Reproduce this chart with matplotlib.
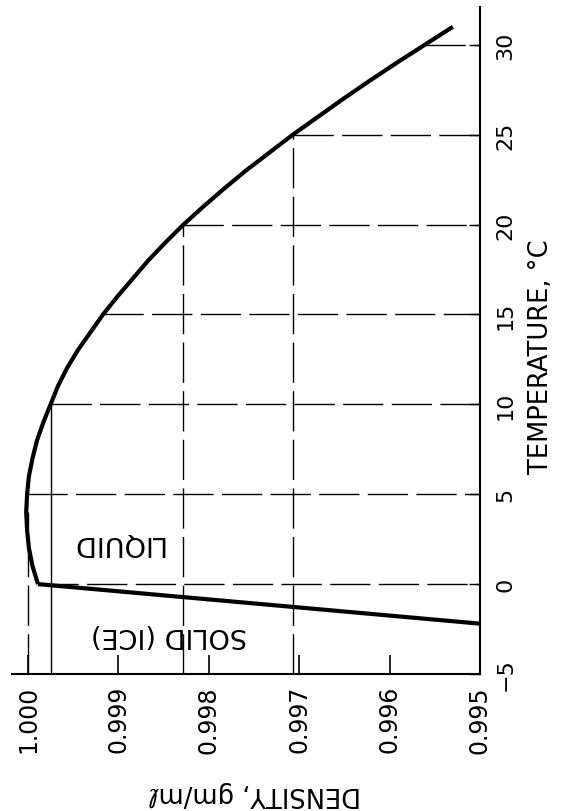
import numpy as np
import matplotlib.pyplot as plt

# liquid water curve (one reading per degree)
temp = list(range(0, 32))
dens = [0.99989, 0.99995, 0.99999, 1.00001, 1.00002, 1.00001, 0.99999, 0.99995,
        0.99990, 0.99983, 0.99975, 0.99967, 0.99957, 0.99945, 0.99931, 0.99917,
        0.99901, 0.99884, 0.99867, 0.99848, 0.99828, 0.99806, 0.99783, 0.99759,
        0.99733, 0.99707, 0.99679, 0.99651, 0.99622, 0.99592, 0.99561, 0.99530]

# solid (ice) branch
ice_temp = [0, -2.2]
ice_dens = [0.99989, 0.995]

dens_ticks = [1.000, 0.999, 0.998, 0.997, 0.996, 0.995]
dens_labels = ["1.000", "0.999", "0.998", "0.997", "0.996", "0.995"]
temp_ticks = [-5, 0, 5, 10, 15, 20, 25, 30]
temp_labels = ["\u22125", "0", "5", "10", "15", "20", "25", "30"]

# guide lines: horizontal at these temps, vertical up to these temps
h_guides = [0, 5, 10, 15, 20, 25, 30]
v_guides = [20, 25]

plt.rcParams['font.family'] = ['DejaVu Sans']

fig = plt.figure(figsize=(5.61, 8.12), dpi=100)
ax = fig.add_axes([12 / 561, 1 - 675 / 812, 468 / 561, 667 / 812])

ax.set_xlim(1.000177, 0.995)
ax.set_ylim(-5, 32.1)

dash = (0, (29, 6))
lw_g = 1.0

def d_at(t):
    return np.interp(t, temp, dens)

# horizontal guides from the curve out to the temperature axis
for t in h_guides:
    ax.plot([d_at(t), 0.995], [t, t], color="black", lw=lw_g, linestyle=dash)

# vertical guides from the density axis up to the curve
for t in v_guides:
    ax.plot([d_at(t), d_at(t)], [-5, t], color="black", lw=lw_g, linestyle=dash)
ax.plot([1.000, 1.000], [-5, 4], color="black", lw=lw_g, linestyle=dash)
ax.plot([d_at(10), d_at(10)], [-5, 10], color="black", lw=lw_g)

ax.plot(dens, temp, color="black", lw=3, solid_capstyle="butt", solid_joinstyle="round")
ax.plot(ice_dens, ice_temp, color="black", lw=3, solid_capstyle="butt")

ax.text(0.999016, 2.34, "LIQUID", rotation=180, fontsize=19.5,
        ha="center", va="center")
ax.text(0.99844, -2.78, "SOLID (ICE)", rotation=180, fontsize=19.5,
        ha="center", va="center")

ax.spines["left"].set_visible(False)
ax.spines["top"].set_visible(False)
ax.spines["right"].set_linewidth(1.5)
ax.spines["bottom"].set_linewidth(1.5)

ax.set_xticks(dens_ticks, dens_labels, rotation=90, fontsize=17)
ax.tick_params(axis="x", direction="in", length=14, width=1.2, pad=8)

ax.yaxis.tick_right()
ax.set_yticks(temp_ticks, temp_labels, rotation=90, fontsize=16, va="center")
ax.tick_params(axis="y", direction="in", length=8, width=1.0, pad=11)

ax.yaxis.set_label_position("right")
ax.set_ylabel("TEMPERATURE, °C", fontsize=18.5, rotation=90)
ax.yaxis.label.set_va("center")
ax.yaxis.label.set_rotation_mode("default")
ax.yaxis.set_label_coords(1.130, 0.477)

ax.set_xlabel("DENSITY, gm/m\u2113", fontsize=18.5, rotation=180)
ax.xaxis.label.set_va("center")
ax.xaxis.set_label_coords(0.519, -0.178)

fig.savefig("out.png", dpi=100)
